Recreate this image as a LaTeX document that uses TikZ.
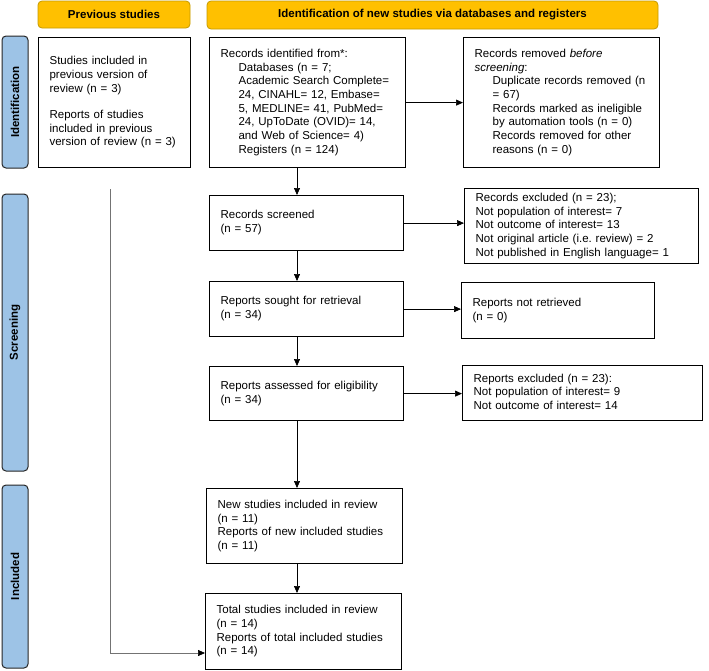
\documentclass[tikz,border=0pt]{standalone}
\usepackage{fontspec}
\setmainfont{Liberation Sans}
\usetikzlibrary{arrows.meta}
\definecolor{headorange}{HTML}{FFC000}
\definecolor{headedge}{HTML}{C49A00}
\definecolor{barblue}{HTML}{9DC3E6}
\newcommand{\boxlines}[1]{\begin{tabular}{@{}l@{}}#1\end{tabular}}
\newcommand{\ind}{\hspace*{18pt}}
\begin{document}
\begin{tikzpicture}[x=1pt,y=-1pt,
	every node/.style={font=\fontsize{11.5}{13.7}\selectfont},
	head/.style={draw=headedge, fill=headorange, rounded corners=4pt, line width=0.8pt, inner sep=0pt, font=\fontsize{11.5}{13.7}\selectfont\bfseries},
	bar/.style={draw=black!85, fill=barblue, rounded corners=4pt, line width=1pt, inner sep=0pt, rotate=90, minimum height=26pt, font=\fontsize{11.5}{13.7}\selectfont\bfseries},
	stage/.style={draw, line width=1.2pt, anchor=north west, align=left, inner xsep=11pt, inner ysep=0pt},
	flow/.style={-{Triangle[length=7pt,width=6pt]}, line width=0.7pt}]
	\useasboundingbox (0,0) rectangle (709,670);
	\node[head, minimum width=152pt, minimum height=27pt] (prevhead) at (114,14.5) {Previous studies};
	\node[head, minimum width=451pt, minimum height=28pt] (newhead) at (432.5,15) {Identification of new studies via databases and registers};
	\node[bar, minimum width=132pt] (idbar) at (15,102) {Identification};
	\node[bar, minimum width=277pt] (scrbar) at (15,332.5) {Screening};
	\node[bar, minimum width=183pt] (incbar) at (15,576.5) {Included};
	\node[stage, text width=130pt, minimum height=130pt] (prev) at (38,37) {\boxlines{Studies included in\\ previous version of\\ review (n = 3)\\[12.7pt] Reports of studies\\ included in previous\\ version of review (n = 3)}};
	\node[stage, text width=174pt, minimum height=130pt] (ident) at (209,37) {\boxlines{Records identified from*:\\ \ind Databases (n = 7;\\ \ind Academic Search Complete=\\ \ind 24, CINAHL= 12, Embase=\\ \ind 5, MEDLINE= 41, PubMed=\\ \ind 24, UpToDate (OVID)= 14,\\ \ind and Web of Science= 4)\\ \ind Registers (n = 124)}};
	\node[stage, text width=174pt, minimum height=130pt] (removed) at (463,37) {\boxlines{Records removed \textit{before}\\ \textit{screening}:\\ \ind Duplicate records removed (n\\ \ind = 67)\\ \ind Records marked as ineligible\\ \ind by automation tools (n = 0)\\ \ind Records removed for other\\ \ind reasons (n = 0)}};
	\node[stage, text width=172pt, minimum height=55pt] (screened) at (209,195) {\boxlines{Records screened\\ (n = 57)}};
	\node[stage, text width=212pt, minimum height=75pt] (excluded) at (464,188) {\boxlines{Records excluded (n = 23);\\ Not population of interest= 7\\ Not outcome of interest= 13\\ Not original article (i.e.\ review) = 2\\ Not published in English language= 1}};
	\node[stage, text width=172pt, minimum height=55pt] (sought) at (209,281) {\boxlines{Reports sought for retrieval\\ (n = 34)}};
	\node[stage, text width=171pt, minimum height=56pt] (notret) at (461,282) {\boxlines{Reports not retrieved\\ (n = 0)}};
	\node[stage, text width=172pt, minimum height=54pt] (assessed) at (209,366) {\boxlines{Reports assessed for eligibility\\ (n = 34)}};
	\node[stage, text width=218pt, minimum height=55pt] (repexcl) at (462,365) {\boxlines{Reports excluded (n = 23):\\ Not population of interest= 9\\ Not outcome of interest= 14}};
	\node[stage, text width=174pt, minimum height=75pt] (newinc) at (206,488) {\boxlines{New studies included in review\\ (n = 11)\\ Reports of new included studies\\ (n = 11)}};
	\node[stage, text width=174pt, minimum height=76pt] (total) at (205,593) {\boxlines{Total studies included in review\\ (n = 14)\\ Reports of total included studies\\ (n = 14)}};
	\coordinate (spine) at (297,0);
	\draw[flow] (ident.south -| spine) -- (screened.north -| spine);
	\draw[flow] (screened.south -| spine) -- (sought.north -| spine);
	\draw[flow] (sought.south -| spine) -- (assessed.north -| spine);
	\draw[flow] (assessed.south -| spine) -- (newinc.north -| spine);
	\draw[flow] (newinc.south -| spine) -- (total.north -| spine);
	\draw[flow] (ident.east) -- (ident.east -| removed.west);
	\draw[flow] (screened.east) -- (screened.east -| excluded.west);
	\draw[flow] (sought.east) -- (sought.east -| notret.west);
	\draw[flow] (assessed.east) -- (assessed.east -| repexcl.west);
	\coordinate (prevtop) at (110,189);
	\coordinate (prevturn) at (110,653);
	\draw[-{Triangle[length=7pt,width=6pt,black]}, line width=0.7pt, draw=black!55] (prevtop) -- (prevturn) -- (prevturn -| total.west);
\end{tikzpicture}
\end{document}
